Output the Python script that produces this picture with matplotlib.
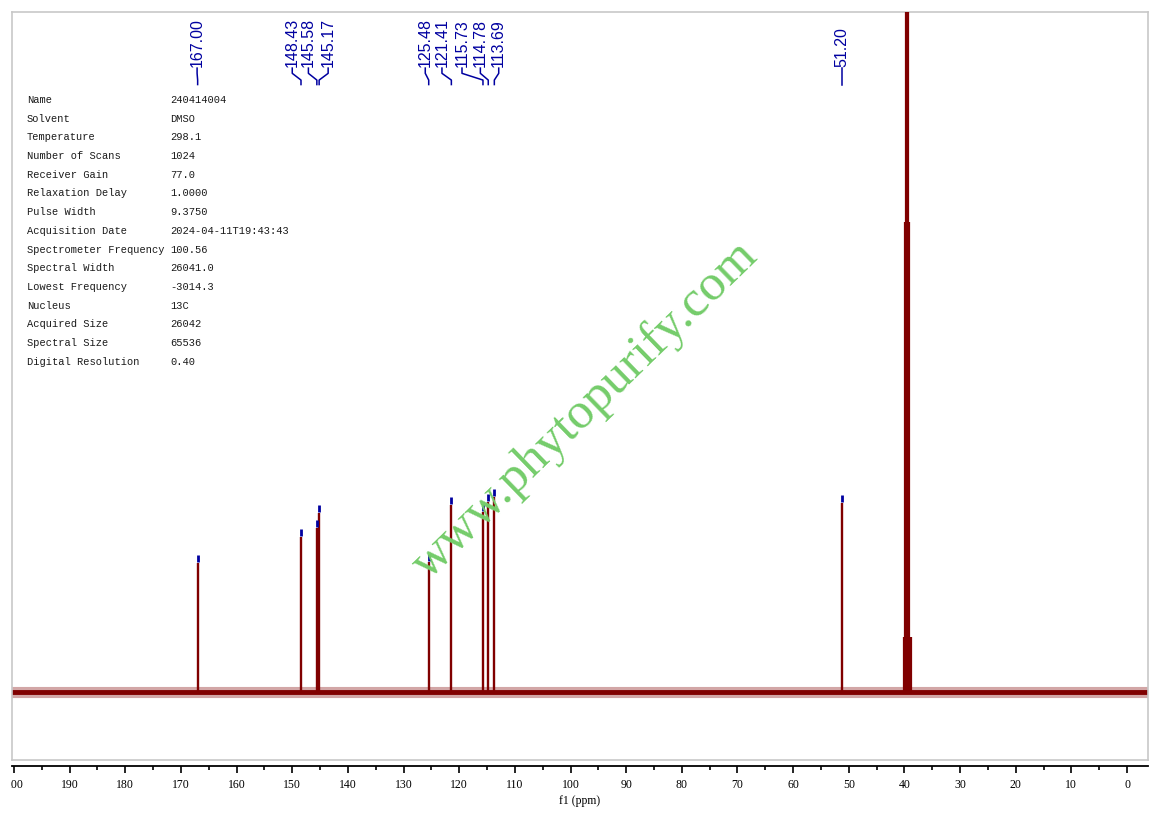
import numpy as np
import matplotlib
matplotlib.use('Agg')
import matplotlib.pyplot as plt
from matplotlib.transforms import Bbox, blended_transform_factory
from matplotlib.ticker import MultipleLocator

# peak list (ppm) and heights above baseline (arbitrary units)
peak_ppm = [167.00, 148.43, 145.58, 145.17, 125.48, 121.41, 115.73, 114.78, 113.69, 51.20]
peak_height = [129, 155, 164, 179, 130, 187, 180, 190, 195, 189]
peak_labels = ['167.00', '148.43', '145.58', '145.17', '125.48', '121.41', '115.73', '114.78', '113.69', '51.20']
label_ppm = [167.1, 150.0, 147.1, 143.55, 126.1, 123.1, 119.5, 116.2, 112.9, 51.2]

# DMSO-d6 solvent septet
solvent_ppm = [40.10, 39.90, 39.70, 39.50, 39.30, 39.10, 38.90]
solvent_height = [55, 470, 900, 1100, 900, 470, 55]

info_names = ['Name', 'Solvent', 'Temperature', 'Number of Scans', 'Receiver Gain', 'Relaxation Delay',
              'Pulse Width', 'Acquisition Date', 'Spectrometer Frequency', 'Spectral Width',
              'Lowest Frequency', 'Nucleus', 'Acquired Size', 'Spectral Size', 'Digital Resolution']
info_values = ['240414004', 'DMSO', '298.1', '1024', '77.0', '1.0000', '9.3750', '2024-04-11T19:43:43',
               '100.56', '26041.0', '-3014.3', '13C', '26042', '65536', '0.40']

W, H = 1159, 815
spec_col = '#800000'
mark_col = '#0000a0'


def px_box(x0, y0, x1, y1):
    # pixel box (top-left origin) -> figure fraction rect
    return [x0 / W, 1 - y1 / H, (x1 - x0) / W, (y1 - y0) / H]


def plot_spectrum(save_file):
    fig = plt.figure(figsize=(W / 100, H / 100), dpi=100)
    ax = fig.add_axes(px_box(12, 12, 1148, 760))
    ax.set_xlim(200.36, -3.77)
    ax.set_ylim(-68, 680)
    ax.set_xticks([])
    ax.set_yticks([])
    for s in ax.spines.values():
        s.set_color('#c8c8c8')
        s.set_linewidth(1.2)

    # baseline
    ax.axhline(0, color=spec_col, lw=8, alpha=0.35, zorder=2)
    ax.axhline(0, color=spec_col, lw=3.5, zorder=2)

    # peaks
    ax.vlines(peak_ppm, 0, peak_height, color=spec_col, lw=1.7, zorder=3)
    ax.vlines(solvent_ppm, 0, solvent_height, color=spec_col, lw=1.6, zorder=3)
    ax.vlines(peak_ppm, np.array(peak_height) + 1, np.array(peak_height) + 8, color=mark_col, lw=2, zorder=4)

    # peak labels with connectors
    trans = blended_transform_factory(ax.transData, ax.transAxes)
    y_top, y_mid, y_low, y_bot = 0.925, 0.918, 0.909, 0.903
    for lp, pp, lab in zip(label_ppm, peak_ppm, peak_labels):
        ax.plot([lp, lp, pp, pp], [y_top, y_mid, y_low, y_bot], color=mark_col, lw=1.1,
                transform=trans, clip_on=False)
        ax.text(lp, y_top + 0.002, lab, rotation=90, ha='center', va='bottom', transform=trans,
                color=mark_col, fontsize=11.5, family='Liberation Sans')

    # watermark
    fig.text(585 / W, 1 - 410 / H, 'www.phytopurify.com', rotation=44.2, ha='center', va='center',
             rotation_mode='anchor', color='#74cc6a', fontsize=37, family='Liberation Serif')

    # acquisition parameters
    for i, (n, v) in enumerate(zip(info_names, info_values)):
        y = 1 - (100 + i * 18.7) / H
        fig.text(27 / W, y, n, ha='left', va='center', fontsize=7.5, family='Liberation Mono', color='#1a1a1a')
        fig.text(170 / W, y, v, ha='left', va='center', fontsize=7.5, family='Liberation Mono', color='#1a1a1a')

    # ppm axis below the frame
    ax2 = fig.add_axes(px_box(12, 765, 1148, 766))
    ax2.set_xlim(200.36, -3.77)
    ax2.set_yticks([])
    for k in ['left', 'right', 'top']:
        ax2.spines[k].set_visible(False)
    ax2.spines['bottom'].set_linewidth(1.3)
    ax2.patch.set_visible(False)
    ax2.xaxis.set_major_locator(MultipleLocator(10))
    ax2.xaxis.set_minor_locator(MultipleLocator(5))
    ax2.tick_params(which='major', direction='out', length=5, width=1.2, pad=4, labelsize=8.5)
    ax2.tick_params(which='minor', direction='out', length=3, width=1.2)
    for t in ax2.get_xticklabels():
        t.set_family('Liberation Serif')
    ax2.set_xlabel('f1 (ppm)', fontsize=8.5, family='Liberation Serif', labelpad=3)

    fig.canvas.draw()
    for t in ax2.get_xticklabels():
        if t.get_text() == '200':
            t.set_clip_on(True)
            t.set_clip_box(Bbox([[11, 0], [W, H]]))

    plt.savefig(save_file, dpi=100)
    plt.close('all')


def main():
    plot_spectrum('out.png')


if __name__ == '__main__':
    main()
